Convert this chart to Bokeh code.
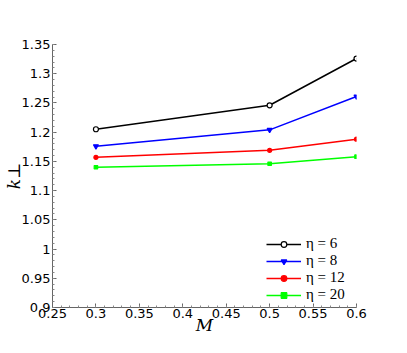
from bokeh.plotting import figure
from bokeh.models import FixedTicker, Legend, LegendItem, Range1d
from bokeh.embed import file_html
from bokeh.resources import INLINE

M = [0.3, 0.5, 0.6]
k_eta6 = [1.205, 1.246, 1.326]
k_eta8 = [1.176, 1.204, 1.261]
k_eta12 = [1.157, 1.169, 1.188]
k_eta20 = [1.140, 1.146, 1.158]
labels = ["η = 6", "η = 8", "η = 12", "η = 20"]

x_ticks = [0.25, 0.3, 0.35, 0.4, 0.45, 0.5, 0.55, 0.6]
x_tick_labels = ["0.25", "0.3", "0.35", "0.4", "0.45", "0.5", "0.55", "0.6"]
y_ticks = [0.9, 0.95, 1.0, 1.05, 1.1, 1.15, 1.2, 1.25, 1.3, 1.35]
y_tick_labels = ["0.9", "0.95", "1", "1.05", "1.1", "1.15", "1.2", "1.25", "1.3", "1.35"]
x_minor = [round(0.25 + 0.01 * i, 2) for i in range(36)]
y_minor = [round(0.9 + 0.01 * i, 2) for i in range(46)]

p = figure(width=391, height=337, output_backend="svg", toolbar_location=None,
           x_range=Range1d(0.25, 0.6), y_range=Range1d(0.9, 1.35),
           min_border_left=40, min_border_right=35, min_border_top=44, min_border_bottom=29)
p.outline_line_color = None
p.grid.visible = False
p.background_fill_color = "white"
p.border_fill_color = "white"

p.xaxis.ticker = FixedTicker(ticks=x_ticks, minor_ticks=x_minor)
p.yaxis.ticker = FixedTicker(ticks=y_ticks, minor_ticks=y_minor)
p.xaxis.major_label_overrides = {t: s for t, s in zip(x_ticks, x_tick_labels)}
p.yaxis.major_label_overrides = {t: s for t, s in zip(y_ticks, y_tick_labels)}

for ax in (p.xaxis, p.yaxis):
    ax.axis_line_color = "#666666"
    ax.major_tick_line_color = "#666666"
    ax.minor_tick_line_color = "#888888"
    ax.major_tick_in = 4
    ax.major_tick_out = 0
    ax.minor_tick_in = 2
    ax.minor_tick_out = 0
    ax.major_label_text_font = "DejaVu Sans"
    ax.major_label_text_font_size = "13px"
    ax.major_label_text_color = "black"
    ax.axis_label_text_font = "DejaVu Serif"
    ax.axis_label_text_font_style = "italic"
    ax.axis_label_text_font_size = "17px"
    ax.axis_label_text_color = "black"

p.xaxis.major_label_standoff = 1
p.yaxis.major_label_standoff = 2
p.xaxis.axis_label = "M"
p.xaxis.axis_label_standoff = -6
p.yaxis.axis_label = "k⊥"
p.yaxis.axis_label_standoff = -5

series = [
    (k_eta6, "black", "circle", 5, "white"),
    (k_eta8, "#0000ff", "inverted_triangle", 5, "#0000ff"),
    (k_eta12, "#ff0000", "circle", 4, "#ff0000"),
    (k_eta20, "#00ff00", "square", 3.5, "#00ff00"),
]
items = []
for (ys, col, mk, sz, fill), lab in zip(series, labels):
    r1 = p.line(M, ys, line_color=col, line_width=1.5)
    r2 = p.scatter(M, ys, marker=mk, size=sz, line_color=col, fill_color=fill, line_width=1.2)
    items.append(LegendItem(label=lab, renderers=[r1, r2]))

legend = Legend(items=items, location=(214, 4), padding=0, margin=0, spacing=0,
                glyph_width=35, glyph_height=14, label_height=14, label_standoff=5,
                label_text_font="Liberation Serif", label_text_font_size="15px",
                label_text_color="black",
                border_line_color=None, background_fill_alpha=0)
p.add_layout(legend)

open("out.html", "w").write(file_html(p, INLINE))
